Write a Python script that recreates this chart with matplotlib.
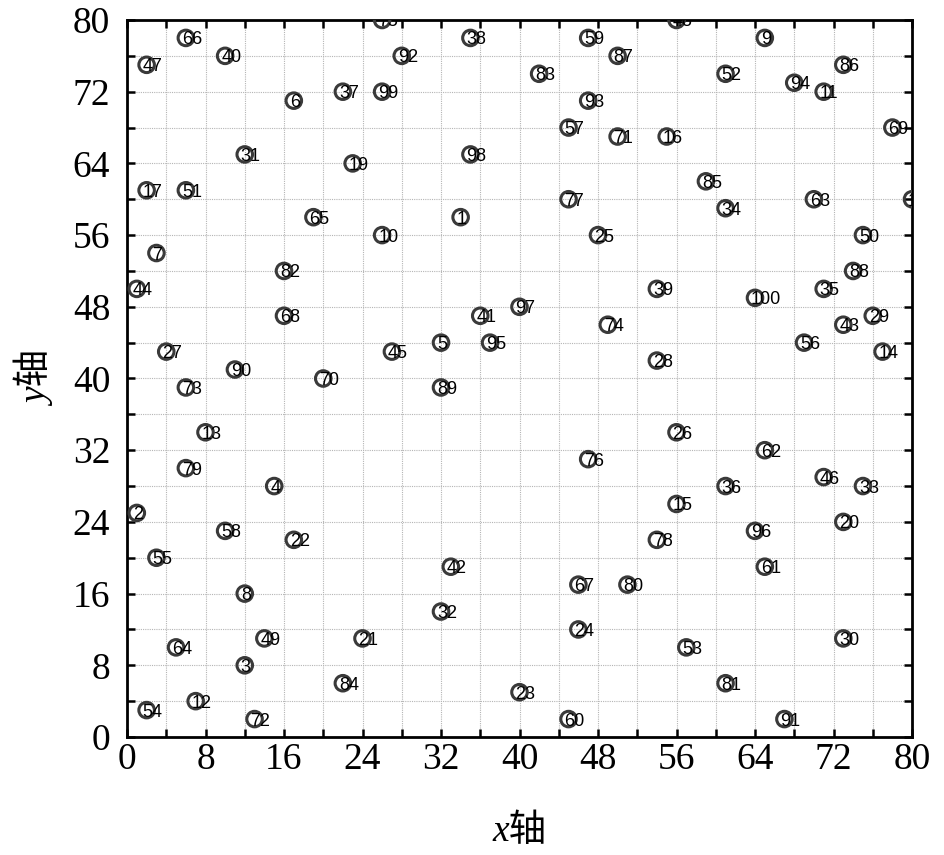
import matplotlib
matplotlib.use("Agg")
import matplotlib.pyplot as plt
from matplotlib.transforms import offset_copy
from matplotlib.ticker import MultipleLocator

# Point labels 1..100 and their coordinates
LABELS = list(range(1, 101))
X_VALUES = [
    34, 1, 12, 15, 32, 17, 3, 12, 65, 26,
    71, 7, 8, 77, 56, 55, 2, 80, 23, 73,
    24, 17, 40, 46, 48, 56, 4, 54, 76, 73,
    12, 32, 75, 61, 71, 61, 22, 35, 54, 10,
    36, 33, 73, 1, 27, 71, 2, 56, 14, 75,
    6, 61, 57, 2, 3, 69, 45, 10, 47, 45,
    65, 65, 70, 5, 19, 6, 46, 16, 78, 20,
    50, 13, 6, 49, 26, 47, 45, 54, 6, 51,
    61, 16, 42, 22, 59, 73, 50, 74, 32, 11,
    67, 28, 47, 68, 37, 64, 40, 35, 26, 64,
]
Y_VALUES = [
    58, 25, 8, 28, 44, 71, 54, 16, 78, 56,
    72, 4, 34, 43, 26, 67, 61, 60, 64, 24,
    11, 22, 5, 12, 56, 34, 43, 42, 47, 11,
    65, 14, 28, 59, 50, 28, 72, 78, 50, 76,
    47, 19, 46, 50, 43, 29, 75, 80, 11, 56,
    61, 74, 10, 3, 20, 44, 68, 23, 78, 2,
    19, 32, 60, 10, 58, 78, 17, 47, 68, 40,
    67, 2, 39, 46, 80, 31, 60, 22, 30, 17,
    6, 52, 74, 6, 62, 75, 76, 52, 39, 41,
    2, 76, 71, 73, 44, 23, 48, 65, 72, 49,
]
X_LABEL = "x轴"
Y_LABEL = "y轴"

# Figure constants
FIG_W, FIG_H, DPI = 945, 855, 100
AX_LEFT, AX_RIGHT, AX_TOP, AX_BOTTOM = 127, 912, 20, 737
AXIS_MAX = 80
TICK_FONT_SIZE = 27
LABEL_FONT_SIZE = 13
SERIF_CJK = ["Liberation Serif", "Noto Sans CJK SC", "DejaVu Sans"]


def plot_points() -> None:
    plt.rcParams["font.family"] = SERIF_CJK

    fig = plt.figure(figsize=(FIG_W / DPI, FIG_H / DPI), dpi=DPI)
    ax = fig.add_axes([
        AX_LEFT / FIG_W,
        1 - AX_BOTTOM / FIG_H,
        (AX_RIGHT - AX_LEFT) / FIG_W,
        (AX_BOTTOM - AX_TOP) / FIG_H,
    ])

    ax.scatter(X_VALUES, Y_VALUES, s=125, facecolors="none",
               edgecolors="#3a3a3a", linewidths=2.2, zorder=3)

    # labels start a bit left of each circle centre, like the reference
    text_tr = offset_copy(ax.transData, fig=fig, x=-4, y=-6.5, units="dots")
    for x, y, lab in zip(X_VALUES, Y_VALUES, LABELS):
        ax.text(x, y, str(lab), transform=text_tr, ha="left", va="baseline",
                fontsize=LABEL_FONT_SIZE, family="Liberation Sans",
                color="black", clip_on=True, zorder=4)

    ax.set_xlim(0, AXIS_MAX)
    ax.set_ylim(0, AXIS_MAX)
    ax.xaxis.set_major_locator(MultipleLocator(8))
    ax.yaxis.set_major_locator(MultipleLocator(8))
    ax.xaxis.set_minor_locator(MultipleLocator(4))
    ax.yaxis.set_minor_locator(MultipleLocator(4))

    ax.grid(True, which="both", linestyle=(0, (1, 1)), linewidth=0.8, color="#b5b5b5")
    ax.set_axisbelow(True)

    ax.tick_params(which="both", direction="in", top=True, right=True,
                   length=6, width=1.8)
    ax.tick_params(axis="x", which="major", labelsize=TICK_FONT_SIZE, pad=4)
    ax.tick_params(axis="y", which="major", labelsize=TICK_FONT_SIZE, pad=12)
    for spine in ax.spines.values():
        spine.set_linewidth(2.0)

    # italic style: x/y come out in Liberation Serif Italic, 轴 falls back to CJK
    ax.set_xlabel(X_LABEL, fontsize=TICK_FONT_SIZE, labelpad=27,
                  fontstyle="italic", family=SERIF_CJK)
    ax.set_ylabel(Y_LABEL, fontsize=TICK_FONT_SIZE, labelpad=12,
                  fontstyle="italic", family=SERIF_CJK)

    fig.savefig("out.png", dpi=DPI)


def main() -> None:
    plot_points()


if __name__ == "__main__":
    main()
